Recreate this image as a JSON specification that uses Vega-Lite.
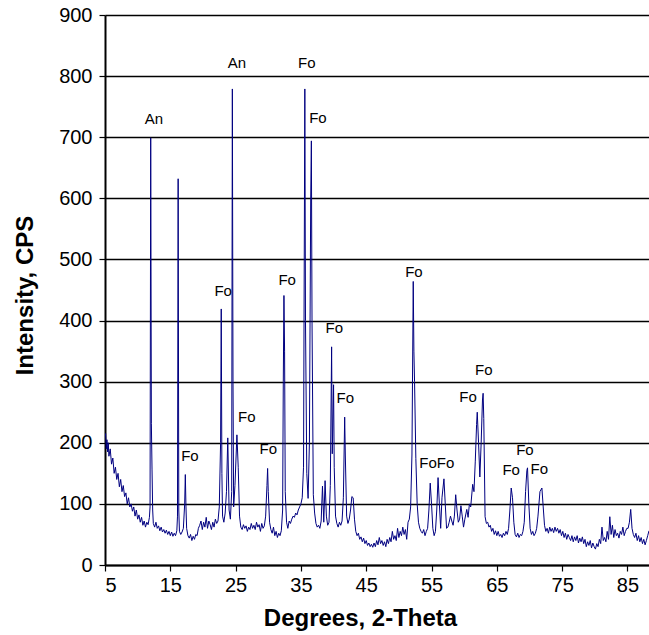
{
  "$schema": "https://vega.github.io/schema/vega-lite/v6.json",
  "width": 544,
  "height": 550,
  "autosize": {"type": "none"},
  "padding": {"left": 105, "top": 15, "right": 0, "bottom": 70},
  "background": "white",
  "config": {
    "view": {"stroke": null},
    "font": "Liberation Sans"
  },
  "datasets": {
    "xrd": [
      {"deg": 5.0, "cps": 210}, {"deg": 5.1, "cps": 215}, {"deg": 5.2, "cps": 190}, {"deg": 5.3, "cps": 205}, {"deg": 5.4, "cps": 185}, {"deg": 5.5, "cps": 200}, {"deg": 5.6, "cps": 178}, {"deg": 5.8, "cps": 190}, {"deg": 6.0, "cps": 165}, {"deg": 6.2, "cps": 175}, {"deg": 6.4, "cps": 150}, {"deg": 6.6, "cps": 160}, {"deg": 6.8, "cps": 140}, {"deg": 7.0, "cps": 150}, {"deg": 7.2, "cps": 128}, {"deg": 7.4, "cps": 140}, {"deg": 7.6, "cps": 120}, {"deg": 7.8, "cps": 130}, {"deg": 8.0, "cps": 112}, {"deg": 8.2, "cps": 118}, {"deg": 8.4, "cps": 100}, {"deg": 8.6, "cps": 110}, {"deg": 8.8, "cps": 95}, {"deg": 9.0, "cps": 100}, {"deg": 9.2, "cps": 88}, {"deg": 9.4, "cps": 95}, {"deg": 9.6, "cps": 80}, {"deg": 9.8, "cps": 90}, {"deg": 10.0, "cps": 75}, {"deg": 10.2, "cps": 82}, {"deg": 10.4, "cps": 70}, {"deg": 10.6, "cps": 78}, {"deg": 10.8, "cps": 65}, {"deg": 11.0, "cps": 72}, {"deg": 11.2, "cps": 62}, {"deg": 11.4, "cps": 70}, {"deg": 11.6, "cps": 66}, {"deg": 11.8, "cps": 78}, {"deg": 11.9, "cps": 95}, {"deg": 12.0, "cps": 699}, {"deg": 12.1, "cps": 232}, {"deg": 12.2, "cps": 157}, {"deg": 12.3, "cps": 90}, {"deg": 12.4, "cps": 68}, {"deg": 12.6, "cps": 62}, {"deg": 12.8, "cps": 70}, {"deg": 13.0, "cps": 60}, {"deg": 13.2, "cps": 64}, {"deg": 13.4, "cps": 56}, {"deg": 13.6, "cps": 62}, {"deg": 13.8, "cps": 54}, {"deg": 14.0, "cps": 58}, {"deg": 14.2, "cps": 52}, {"deg": 14.4, "cps": 57}, {"deg": 14.6, "cps": 50}, {"deg": 14.8, "cps": 55}, {"deg": 15.0, "cps": 48}, {"deg": 15.2, "cps": 54}, {"deg": 15.4, "cps": 47}, {"deg": 15.6, "cps": 52}, {"deg": 15.8, "cps": 48}, {"deg": 16.0, "cps": 56}, {"deg": 16.1, "cps": 80}, {"deg": 16.2, "cps": 632}, {"deg": 16.3, "cps": 90}, {"deg": 16.4, "cps": 55}, {"deg": 16.6, "cps": 50}, {"deg": 16.8, "cps": 54}, {"deg": 17.0, "cps": 60}, {"deg": 17.2, "cps": 100}, {"deg": 17.3, "cps": 148}, {"deg": 17.4, "cps": 95}, {"deg": 17.5, "cps": 60}, {"deg": 17.7, "cps": 48}, {"deg": 17.9, "cps": 44}, {"deg": 18.1, "cps": 50}, {"deg": 18.3, "cps": 40}, {"deg": 18.5, "cps": 47}, {"deg": 18.7, "cps": 42}, {"deg": 18.9, "cps": 50}, {"deg": 19.1, "cps": 48}, {"deg": 19.3, "cps": 60}, {"deg": 19.5, "cps": 65}, {"deg": 19.7, "cps": 72}, {"deg": 19.9, "cps": 58}, {"deg": 20.1, "cps": 70}, {"deg": 20.3, "cps": 62}, {"deg": 20.5, "cps": 78}, {"deg": 20.7, "cps": 60}, {"deg": 20.9, "cps": 72}, {"deg": 21.1, "cps": 66}, {"deg": 21.3, "cps": 58}, {"deg": 21.5, "cps": 70}, {"deg": 21.7, "cps": 62}, {"deg": 21.9, "cps": 75}, {"deg": 22.1, "cps": 68}, {"deg": 22.3, "cps": 72}, {"deg": 22.5, "cps": 95}, {"deg": 22.7, "cps": 200}, {"deg": 22.8, "cps": 419}, {"deg": 22.9, "cps": 150}, {"deg": 23.0, "cps": 80}, {"deg": 23.2, "cps": 70}, {"deg": 23.4, "cps": 85}, {"deg": 23.6, "cps": 120}, {"deg": 23.8, "cps": 208}, {"deg": 24.0, "cps": 90}, {"deg": 24.2, "cps": 75}, {"deg": 24.4, "cps": 120}, {"deg": 24.5, "cps": 779}, {"deg": 24.6, "cps": 300}, {"deg": 24.7, "cps": 95}, {"deg": 24.9, "cps": 130}, {"deg": 25.2, "cps": 213}, {"deg": 25.4, "cps": 160}, {"deg": 25.6, "cps": 80}, {"deg": 25.8, "cps": 62}, {"deg": 26.0, "cps": 58}, {"deg": 26.2, "cps": 66}, {"deg": 26.4, "cps": 60}, {"deg": 26.6, "cps": 64}, {"deg": 26.8, "cps": 55}, {"deg": 27.0, "cps": 62}, {"deg": 27.2, "cps": 58}, {"deg": 27.4, "cps": 68}, {"deg": 27.6, "cps": 60}, {"deg": 27.8, "cps": 65}, {"deg": 28.0, "cps": 58}, {"deg": 28.2, "cps": 70}, {"deg": 28.4, "cps": 62}, {"deg": 28.6, "cps": 66}, {"deg": 28.8, "cps": 55}, {"deg": 29.0, "cps": 68}, {"deg": 29.2, "cps": 60}, {"deg": 29.4, "cps": 64}, {"deg": 29.6, "cps": 80}, {"deg": 29.8, "cps": 130}, {"deg": 29.9, "cps": 158}, {"deg": 30.0, "cps": 120}, {"deg": 30.2, "cps": 70}, {"deg": 30.4, "cps": 58}, {"deg": 30.6, "cps": 52}, {"deg": 30.8, "cps": 62}, {"deg": 31.0, "cps": 48}, {"deg": 31.2, "cps": 55}, {"deg": 31.4, "cps": 45}, {"deg": 31.6, "cps": 52}, {"deg": 31.8, "cps": 48}, {"deg": 32.0, "cps": 56}, {"deg": 32.2, "cps": 90}, {"deg": 32.3, "cps": 300}, {"deg": 32.4, "cps": 441}, {"deg": 32.5, "cps": 350}, {"deg": 32.6, "cps": 120}, {"deg": 32.8, "cps": 70}, {"deg": 33.0, "cps": 60}, {"deg": 33.2, "cps": 72}, {"deg": 33.4, "cps": 68}, {"deg": 33.6, "cps": 75}, {"deg": 33.8, "cps": 80}, {"deg": 34.0, "cps": 78}, {"deg": 34.2, "cps": 85}, {"deg": 34.4, "cps": 82}, {"deg": 34.6, "cps": 90}, {"deg": 34.8, "cps": 95}, {"deg": 35.0, "cps": 100}, {"deg": 35.2, "cps": 110}, {"deg": 35.4, "cps": 160}, {"deg": 35.6, "cps": 779}, {"deg": 35.7, "cps": 400}, {"deg": 35.9, "cps": 150}, {"deg": 36.1, "cps": 109}, {"deg": 36.3, "cps": 200}, {"deg": 36.5, "cps": 600}, {"deg": 36.6, "cps": 694}, {"deg": 36.7, "cps": 400}, {"deg": 36.9, "cps": 115}, {"deg": 37.1, "cps": 85}, {"deg": 37.3, "cps": 68}, {"deg": 37.5, "cps": 62}, {"deg": 37.7, "cps": 65}, {"deg": 37.9, "cps": 60}, {"deg": 38.1, "cps": 72}, {"deg": 38.3, "cps": 129}, {"deg": 38.5, "cps": 70}, {"deg": 38.7, "cps": 138}, {"deg": 38.9, "cps": 80}, {"deg": 39.1, "cps": 65}, {"deg": 39.3, "cps": 70}, {"deg": 39.5, "cps": 130}, {"deg": 39.7, "cps": 357}, {"deg": 39.8, "cps": 182}, {"deg": 40.0, "cps": 295}, {"deg": 40.1, "cps": 160}, {"deg": 40.3, "cps": 80}, {"deg": 40.5, "cps": 68}, {"deg": 40.7, "cps": 62}, {"deg": 40.9, "cps": 70}, {"deg": 41.1, "cps": 65}, {"deg": 41.3, "cps": 72}, {"deg": 41.5, "cps": 110}, {"deg": 41.7, "cps": 242}, {"deg": 41.8, "cps": 180}, {"deg": 42.0, "cps": 80}, {"deg": 42.2, "cps": 68}, {"deg": 42.4, "cps": 75}, {"deg": 42.6, "cps": 90}, {"deg": 42.8, "cps": 112}, {"deg": 43.0, "cps": 110}, {"deg": 43.2, "cps": 75}, {"deg": 43.4, "cps": 55}, {"deg": 43.6, "cps": 48}, {"deg": 43.8, "cps": 52}, {"deg": 44.0, "cps": 42}, {"deg": 44.2, "cps": 46}, {"deg": 44.4, "cps": 38}, {"deg": 44.6, "cps": 44}, {"deg": 44.8, "cps": 35}, {"deg": 45.0, "cps": 40}, {"deg": 45.2, "cps": 32}, {"deg": 45.4, "cps": 36}, {"deg": 45.6, "cps": 30}, {"deg": 45.8, "cps": 34}, {"deg": 46.0, "cps": 29}, {"deg": 46.2, "cps": 36}, {"deg": 46.4, "cps": 30}, {"deg": 46.6, "cps": 40}, {"deg": 46.8, "cps": 33}, {"deg": 47.0, "cps": 45}, {"deg": 47.2, "cps": 35}, {"deg": 47.4, "cps": 40}, {"deg": 47.6, "cps": 32}, {"deg": 47.8, "cps": 38}, {"deg": 48.0, "cps": 30}, {"deg": 48.2, "cps": 42}, {"deg": 48.4, "cps": 35}, {"deg": 48.6, "cps": 45}, {"deg": 48.8, "cps": 38}, {"deg": 49.0, "cps": 55}, {"deg": 49.2, "cps": 42}, {"deg": 49.4, "cps": 48}, {"deg": 49.6, "cps": 40}, {"deg": 49.8, "cps": 60}, {"deg": 50.0, "cps": 45}, {"deg": 50.2, "cps": 55}, {"deg": 50.4, "cps": 48}, {"deg": 50.6, "cps": 62}, {"deg": 50.8, "cps": 50}, {"deg": 51.0, "cps": 58}, {"deg": 51.2, "cps": 42}, {"deg": 51.4, "cps": 70}, {"deg": 51.6, "cps": 75}, {"deg": 51.8, "cps": 95}, {"deg": 52.0, "cps": 180}, {"deg": 52.2, "cps": 464}, {"deg": 52.3, "cps": 350}, {"deg": 52.4, "cps": 300}, {"deg": 52.6, "cps": 174}, {"deg": 52.8, "cps": 100}, {"deg": 53.0, "cps": 70}, {"deg": 53.2, "cps": 60}, {"deg": 53.4, "cps": 55}, {"deg": 53.6, "cps": 52}, {"deg": 53.8, "cps": 58}, {"deg": 54.0, "cps": 48}, {"deg": 54.2, "cps": 55}, {"deg": 54.4, "cps": 60}, {"deg": 54.6, "cps": 90}, {"deg": 54.8, "cps": 134}, {"deg": 55.0, "cps": 100}, {"deg": 55.2, "cps": 60}, {"deg": 55.4, "cps": 48}, {"deg": 55.6, "cps": 55}, {"deg": 55.8, "cps": 90}, {"deg": 56.0, "cps": 143}, {"deg": 56.2, "cps": 100}, {"deg": 56.4, "cps": 60}, {"deg": 56.6, "cps": 110}, {"deg": 56.9, "cps": 141}, {"deg": 57.1, "cps": 100}, {"deg": 57.3, "cps": 60}, {"deg": 57.5, "cps": 62}, {"deg": 57.7, "cps": 70}, {"deg": 57.9, "cps": 80}, {"deg": 58.1, "cps": 72}, {"deg": 58.3, "cps": 65}, {"deg": 58.5, "cps": 80}, {"deg": 58.7, "cps": 115}, {"deg": 58.9, "cps": 90}, {"deg": 59.1, "cps": 70}, {"deg": 59.3, "cps": 75}, {"deg": 59.5, "cps": 97}, {"deg": 59.7, "cps": 80}, {"deg": 59.9, "cps": 62}, {"deg": 60.1, "cps": 75}, {"deg": 60.4, "cps": 91}, {"deg": 60.6, "cps": 78}, {"deg": 60.8, "cps": 100}, {"deg": 61.0, "cps": 95}, {"deg": 61.3, "cps": 132}, {"deg": 61.5, "cps": 120}, {"deg": 61.7, "cps": 170}, {"deg": 61.9, "cps": 230}, {"deg": 62.0, "cps": 250}, {"deg": 62.2, "cps": 200}, {"deg": 62.4, "cps": 144}, {"deg": 62.6, "cps": 200}, {"deg": 62.8, "cps": 270}, {"deg": 62.9, "cps": 281}, {"deg": 63.0, "cps": 240}, {"deg": 63.2, "cps": 79}, {"deg": 63.4, "cps": 68}, {"deg": 63.6, "cps": 70}, {"deg": 63.8, "cps": 62}, {"deg": 64.0, "cps": 65}, {"deg": 64.2, "cps": 55}, {"deg": 64.4, "cps": 60}, {"deg": 64.6, "cps": 50}, {"deg": 64.8, "cps": 56}, {"deg": 65.0, "cps": 48}, {"deg": 65.2, "cps": 55}, {"deg": 65.4, "cps": 47}, {"deg": 65.6, "cps": 50}, {"deg": 65.8, "cps": 45}, {"deg": 66.0, "cps": 52}, {"deg": 66.2, "cps": 48}, {"deg": 66.4, "cps": 55}, {"deg": 66.6, "cps": 50}, {"deg": 66.8, "cps": 60}, {"deg": 67.0, "cps": 90}, {"deg": 67.2, "cps": 126}, {"deg": 67.4, "cps": 110}, {"deg": 67.6, "cps": 70}, {"deg": 67.8, "cps": 50}, {"deg": 68.0, "cps": 46}, {"deg": 68.2, "cps": 52}, {"deg": 68.4, "cps": 45}, {"deg": 68.6, "cps": 50}, {"deg": 68.8, "cps": 48}, {"deg": 69.0, "cps": 55}, {"deg": 69.2, "cps": 70}, {"deg": 69.4, "cps": 120}, {"deg": 69.6, "cps": 155}, {"deg": 69.7, "cps": 159}, {"deg": 69.9, "cps": 100}, {"deg": 70.1, "cps": 60}, {"deg": 70.3, "cps": 50}, {"deg": 70.5, "cps": 55}, {"deg": 70.7, "cps": 48}, {"deg": 70.9, "cps": 52}, {"deg": 71.1, "cps": 60}, {"deg": 71.3, "cps": 80}, {"deg": 71.6, "cps": 120}, {"deg": 71.9, "cps": 126}, {"deg": 72.1, "cps": 95}, {"deg": 72.3, "cps": 65}, {"deg": 72.5, "cps": 55}, {"deg": 72.7, "cps": 60}, {"deg": 72.9, "cps": 52}, {"deg": 73.1, "cps": 62}, {"deg": 73.3, "cps": 55}, {"deg": 73.5, "cps": 60}, {"deg": 73.7, "cps": 53}, {"deg": 73.9, "cps": 62}, {"deg": 74.1, "cps": 55}, {"deg": 74.3, "cps": 60}, {"deg": 74.5, "cps": 52}, {"deg": 74.7, "cps": 58}, {"deg": 74.9, "cps": 48}, {"deg": 75.1, "cps": 55}, {"deg": 75.3, "cps": 45}, {"deg": 75.5, "cps": 52}, {"deg": 75.7, "cps": 42}, {"deg": 75.9, "cps": 50}, {"deg": 76.1, "cps": 45}, {"deg": 76.3, "cps": 40}, {"deg": 76.5, "cps": 48}, {"deg": 76.7, "cps": 38}, {"deg": 76.9, "cps": 46}, {"deg": 77.1, "cps": 40}, {"deg": 77.3, "cps": 48}, {"deg": 77.5, "cps": 36}, {"deg": 77.7, "cps": 44}, {"deg": 77.9, "cps": 38}, {"deg": 78.1, "cps": 46}, {"deg": 78.3, "cps": 35}, {"deg": 78.5, "cps": 42}, {"deg": 78.7, "cps": 30}, {"deg": 78.9, "cps": 38}, {"deg": 79.1, "cps": 32}, {"deg": 79.3, "cps": 40}, {"deg": 79.5, "cps": 28}, {"deg": 79.7, "cps": 36}, {"deg": 79.9, "cps": 30}, {"deg": 80.1, "cps": 26}, {"deg": 80.3, "cps": 35}, {"deg": 80.5, "cps": 30}, {"deg": 80.7, "cps": 42}, {"deg": 80.9, "cps": 35}, {"deg": 81.1, "cps": 62}, {"deg": 81.3, "cps": 40}, {"deg": 81.5, "cps": 45}, {"deg": 81.7, "cps": 38}, {"deg": 81.9, "cps": 55}, {"deg": 82.1, "cps": 42}, {"deg": 82.3, "cps": 79}, {"deg": 82.5, "cps": 50}, {"deg": 82.7, "cps": 65}, {"deg": 82.9, "cps": 45}, {"deg": 83.1, "cps": 58}, {"deg": 83.3, "cps": 48}, {"deg": 83.5, "cps": 52}, {"deg": 83.7, "cps": 44}, {"deg": 83.9, "cps": 55}, {"deg": 84.1, "cps": 50}, {"deg": 84.3, "cps": 62}, {"deg": 84.5, "cps": 48}, {"deg": 84.7, "cps": 55}, {"deg": 84.9, "cps": 60}, {"deg": 85.1, "cps": 60}, {"deg": 85.3, "cps": 70}, {"deg": 85.5, "cps": 91}, {"deg": 85.7, "cps": 60}, {"deg": 85.9, "cps": 50}, {"deg": 86.1, "cps": 45}, {"deg": 86.3, "cps": 52}, {"deg": 86.5, "cps": 40}, {"deg": 86.7, "cps": 48}, {"deg": 86.9, "cps": 38}, {"deg": 87.1, "cps": 45}, {"deg": 87.3, "cps": 35}, {"deg": 87.5, "cps": 42}, {"deg": 87.7, "cps": 33}, {"deg": 87.9, "cps": 40}, {"deg": 88.1, "cps": 48}, {"deg": 88.3, "cps": 56}
    ],
    "labels": [
      {"deg": 12.5, "cps": 730, "txt": "An"},
      {"deg": 25.2, "cps": 822, "txt": "An"},
      {"deg": 35.9, "cps": 822, "txt": "Fo"},
      {"deg": 37.6, "cps": 732, "txt": "Fo"},
      {"deg": 18.0, "cps": 178, "txt": "Fo"},
      {"deg": 23.1, "cps": 448, "txt": "Fo"},
      {"deg": 26.7, "cps": 242, "txt": "Fo"},
      {"deg": 30.0, "cps": 190, "txt": "Fo"},
      {"deg": 32.9, "cps": 466, "txt": "Fo"},
      {"deg": 40.1, "cps": 388, "txt": "Fo"},
      {"deg": 41.8, "cps": 273, "txt": "Fo"},
      {"deg": 52.3, "cps": 480, "txt": "Fo"},
      {"deg": 55.8, "cps": 167, "txt": "FoFo"},
      {"deg": 60.6, "cps": 275, "txt": "Fo"},
      {"deg": 63.0, "cps": 319, "txt": "Fo"},
      {"deg": 67.2, "cps": 155, "txt": "Fo"},
      {"deg": 69.3, "cps": 188, "txt": "Fo"},
      {"deg": 71.5, "cps": 157, "txt": "Fo"}
    ]
  },
  "layer": [
    {
      "data": {"name": "xrd"},
      "mark": {"type": "line", "color": "#000080", "strokeWidth": 1, "clip": true},
      "encoding": {
        "x": {
          "field": "deg", "type": "quantitative",
          "scale": {"domain": [5, 88.3], "nice": false, "zero": false},
          "axis": {
            "values": [5, 15, 25, 35, 45, 55, 65, 75, 85],
            "title": "Degrees, 2-Theta",
            "grid": false,
            "domainColor": "black", "domainWidth": 2,
            "tickColor": "black", "tickSize": 6, "tickWidth": 1.2,
            "labelFontSize": 20, "labelColor": "black", "labelPadding": 4,
            "titleFontSize": 24, "titleFontWeight": "bold", "titleColor": "black",
            "titleX": 255, "titleY": 60, "titleAlign": "center", "titleBaseline": "alphabetic"
          }
        },
        "y": {
          "field": "cps", "type": "quantitative",
          "scale": {"domain": [0, 900], "nice": false},
          "axis": {
            "values": [0, 100, 200, 300, 400, 500, 600, 700, 800, 900],
            "title": "Intensity, CPS",
            "grid": true, "gridColor": "black", "gridWidth": 1.5, "gridOpacity": 1,
            "domainColor": "black", "domainWidth": 2,
            "tickColor": "black", "tickSize": 6, "tickWidth": 1.2,
            "labelFontSize": 20, "labelColor": "black", "labelPadding": 7,
            "titleFontSize": 24, "titleFontWeight": "bold", "titleColor": "black",
            "titleX": -73, "titleY": 280, "titleAngle": -90, "titleAlign": "center", "titleBaseline": "alphabetic"
          }
        }
      }
    },
    {
      "data": {"name": "labels"},
      "mark": {"type": "text", "fontSize": 15, "color": "black", "align": "center", "baseline": "middle"},
      "encoding": {
        "x": {"field": "deg", "type": "quantitative"},
        "y": {"field": "cps", "type": "quantitative"},
        "text": {"field": "txt"}
      }
    }
  ]
}
